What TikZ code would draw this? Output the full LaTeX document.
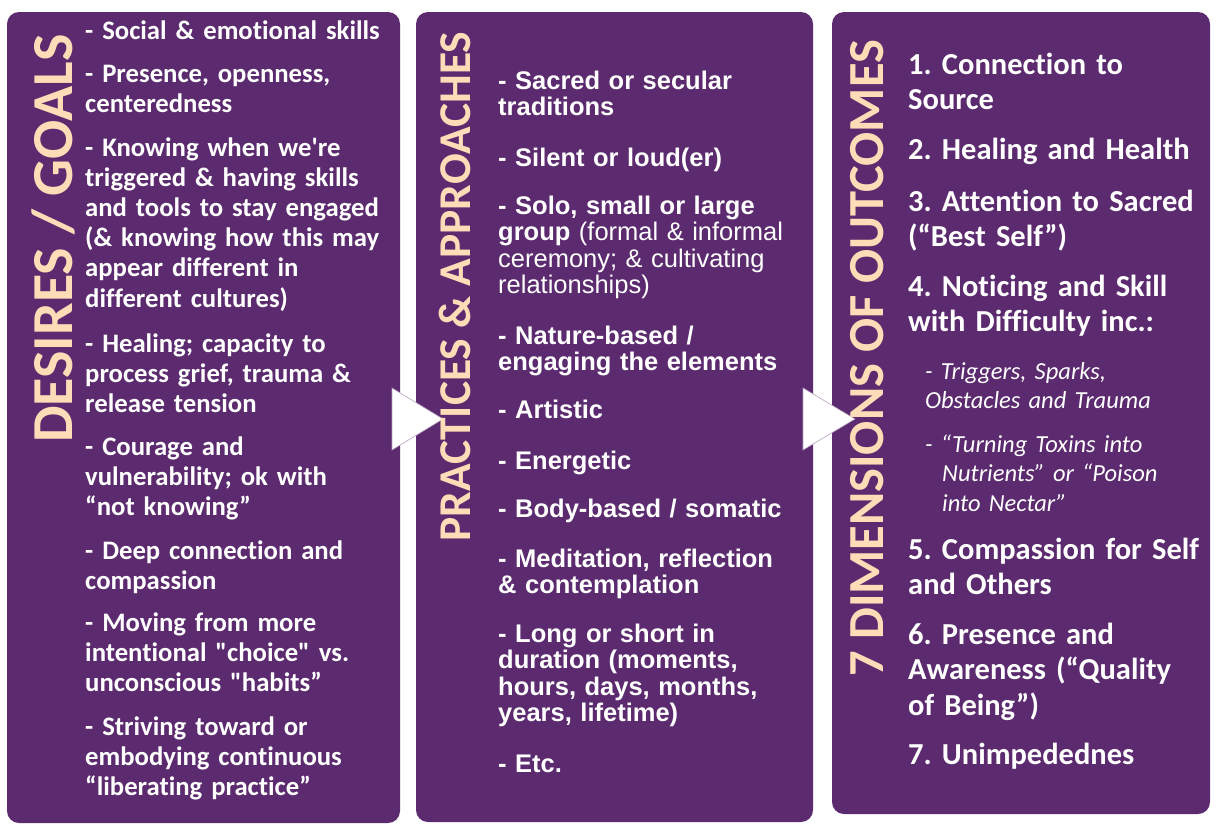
\documentclass[tikz,border=0pt]{standalone}
\usepackage{fontspec}
\usepackage{tikz}
\newfontfamily\calibfont{Carlito}[Ligatures=NoCommon]
\newfontfamily\arialfont{Liberation Sans}
\definecolor{panelpurple}{RGB}{92,42,110}
\definecolor{headpeach}{RGB}{252,221,184}
\frenchspacing
\tikzset{
  panel/.style={fill=panelpurple, rounded corners=12pt},
  heading/.style={rotate=90, anchor=base west, inner sep=0pt, text=headpeach},
  item/.style={anchor=base west, inner sep=0pt, text=white, align=left},
  goal/.style={item, text width=312pt, font=\calibfont\fontsize{26.7}{30.2}\selectfont\bfseries},
  practice/.style={item, text width=312pt, font=\arialfont\fontsize{25.5}{26.5}\selectfont\bfseries},
  outcome/.style={item, text width=300pt, font=\calibfont\fontsize{30.5}{35.5}\selectfont\bfseries},
  detail/.style={item, text width=280pt, font=\calibfont\fontsize{24.5}{29.5}\selectfont\itshape},
  fwd/.style={fill=white, draw=panelpurple!45, line width=0.6pt}
}
\begin{document}
\begin{tikzpicture}[x=1pt, y=-1pt]
    \useasboundingbox (0,0) rectangle (1216,825);
    \fill[white] (0,0) rectangle (1216,825);
    \fill[panel] (7,12) rectangle (400,823);
    \fill[panel] (416,12) rectangle (813,822);
    \fill[panel] (832,12) rectangle (1210,814);
    \filldraw[fwd] (392,388) -- (443,419) -- (392,450) -- cycle;
    \filldraw[fwd] (803,388) -- (855,419) -- (803,450) -- cycle;
    \node[heading, font=\calibfont\fontsize{58}{58}\selectfont\bfseries] (desires) at (72,443) {DESIRES / GOALS};
    \node[heading, font=\calibfont\fontsize{45.5}{45.5}\selectfont\bfseries] (practices) at (470,542) {PRACTICES \& APPROACHES};
    \node[heading, font=\calibfont\fontsize{50.5}{50.5}\selectfont\bfseries] (dimensions) at (883,677) {7 DIMENSIONS OF OUTCOMES};
    \foreach \yy/\txt [count=\i] in {39/{- Social \& emotional skills},
        82/{- Presence, openness,\\ centeredness},
        156/{- Knowing when we're\\ triggered \& having skills\\ and tools to stay engaged\\ (\& knowing how this may\\ appear different in\\ different cultures)},
        352/{- Healing; capacity to\\ process grief, trauma \&\\ release tension},
        455/{- Courage and\\ vulnerability; ok with\\ “not knowing”},
        559/{- Deep connection and\\ compassion},
        631/{- Moving from more\\ intentional "choice" vs.\\ unconscious "habits”},
        735/{- Striving toward or\\ embodying continuous\\ “liberating practice”}}
        \node[goal] (goal\i) at (85,\yy) {\txt};
    \foreach \yy/\txt [count=\i] in {89/{- Sacred or secular\\ traditions},
        166/{- Silent or loud(er)},
        214/{- Solo, small or large\\ group {\mdseries (formal \& informal\\ ceremony; \& cultivating\\ relationships)}},
        344/{- Nature-based /\\ engaging the elements},
        418/{- Artistic},
        469/{- Energetic},
        517/{- Body-based / somatic},
        567/{- Meditation, reflection\\ \& contemplation},
        642/{- Long or short in\\ duration (moments,\\ hours, days, months,\\ years, lifetime)},
        772/{- Etc.}}
        \node[practice] (practice\i) at (498,\yy) {\txt};
    \foreach \yy/\txt [count=\i] in {74/{1. Connection to\\ Source},
        159/{2. Healing and Health},
        211/{3. Attention to Sacred\\ (“Best Self”)},
        296/{4. Noticing and Skill\\ with Difficulty inc.:},
        559/{5. Compassion for Self\\ and Others},
        644/{6. Presence and\\ Awareness (“Quality\\ of Being”)},
        764/{7. Unimpedednes}}
        \node[outcome] (outcome\i) at (908,\yy) {\txt};
    \node[detail] (trigger) at (925,379) {- Triggers, Sparks,\\ Obstacles and Trauma};
    \node[detail] (toxin) at (925,452) {- “Turning Toxins into\\ \hspace*{17pt}Nutrients” or “Poison\\ \hspace*{17pt}into Nectar”};
\end{tikzpicture}
\end{document}
